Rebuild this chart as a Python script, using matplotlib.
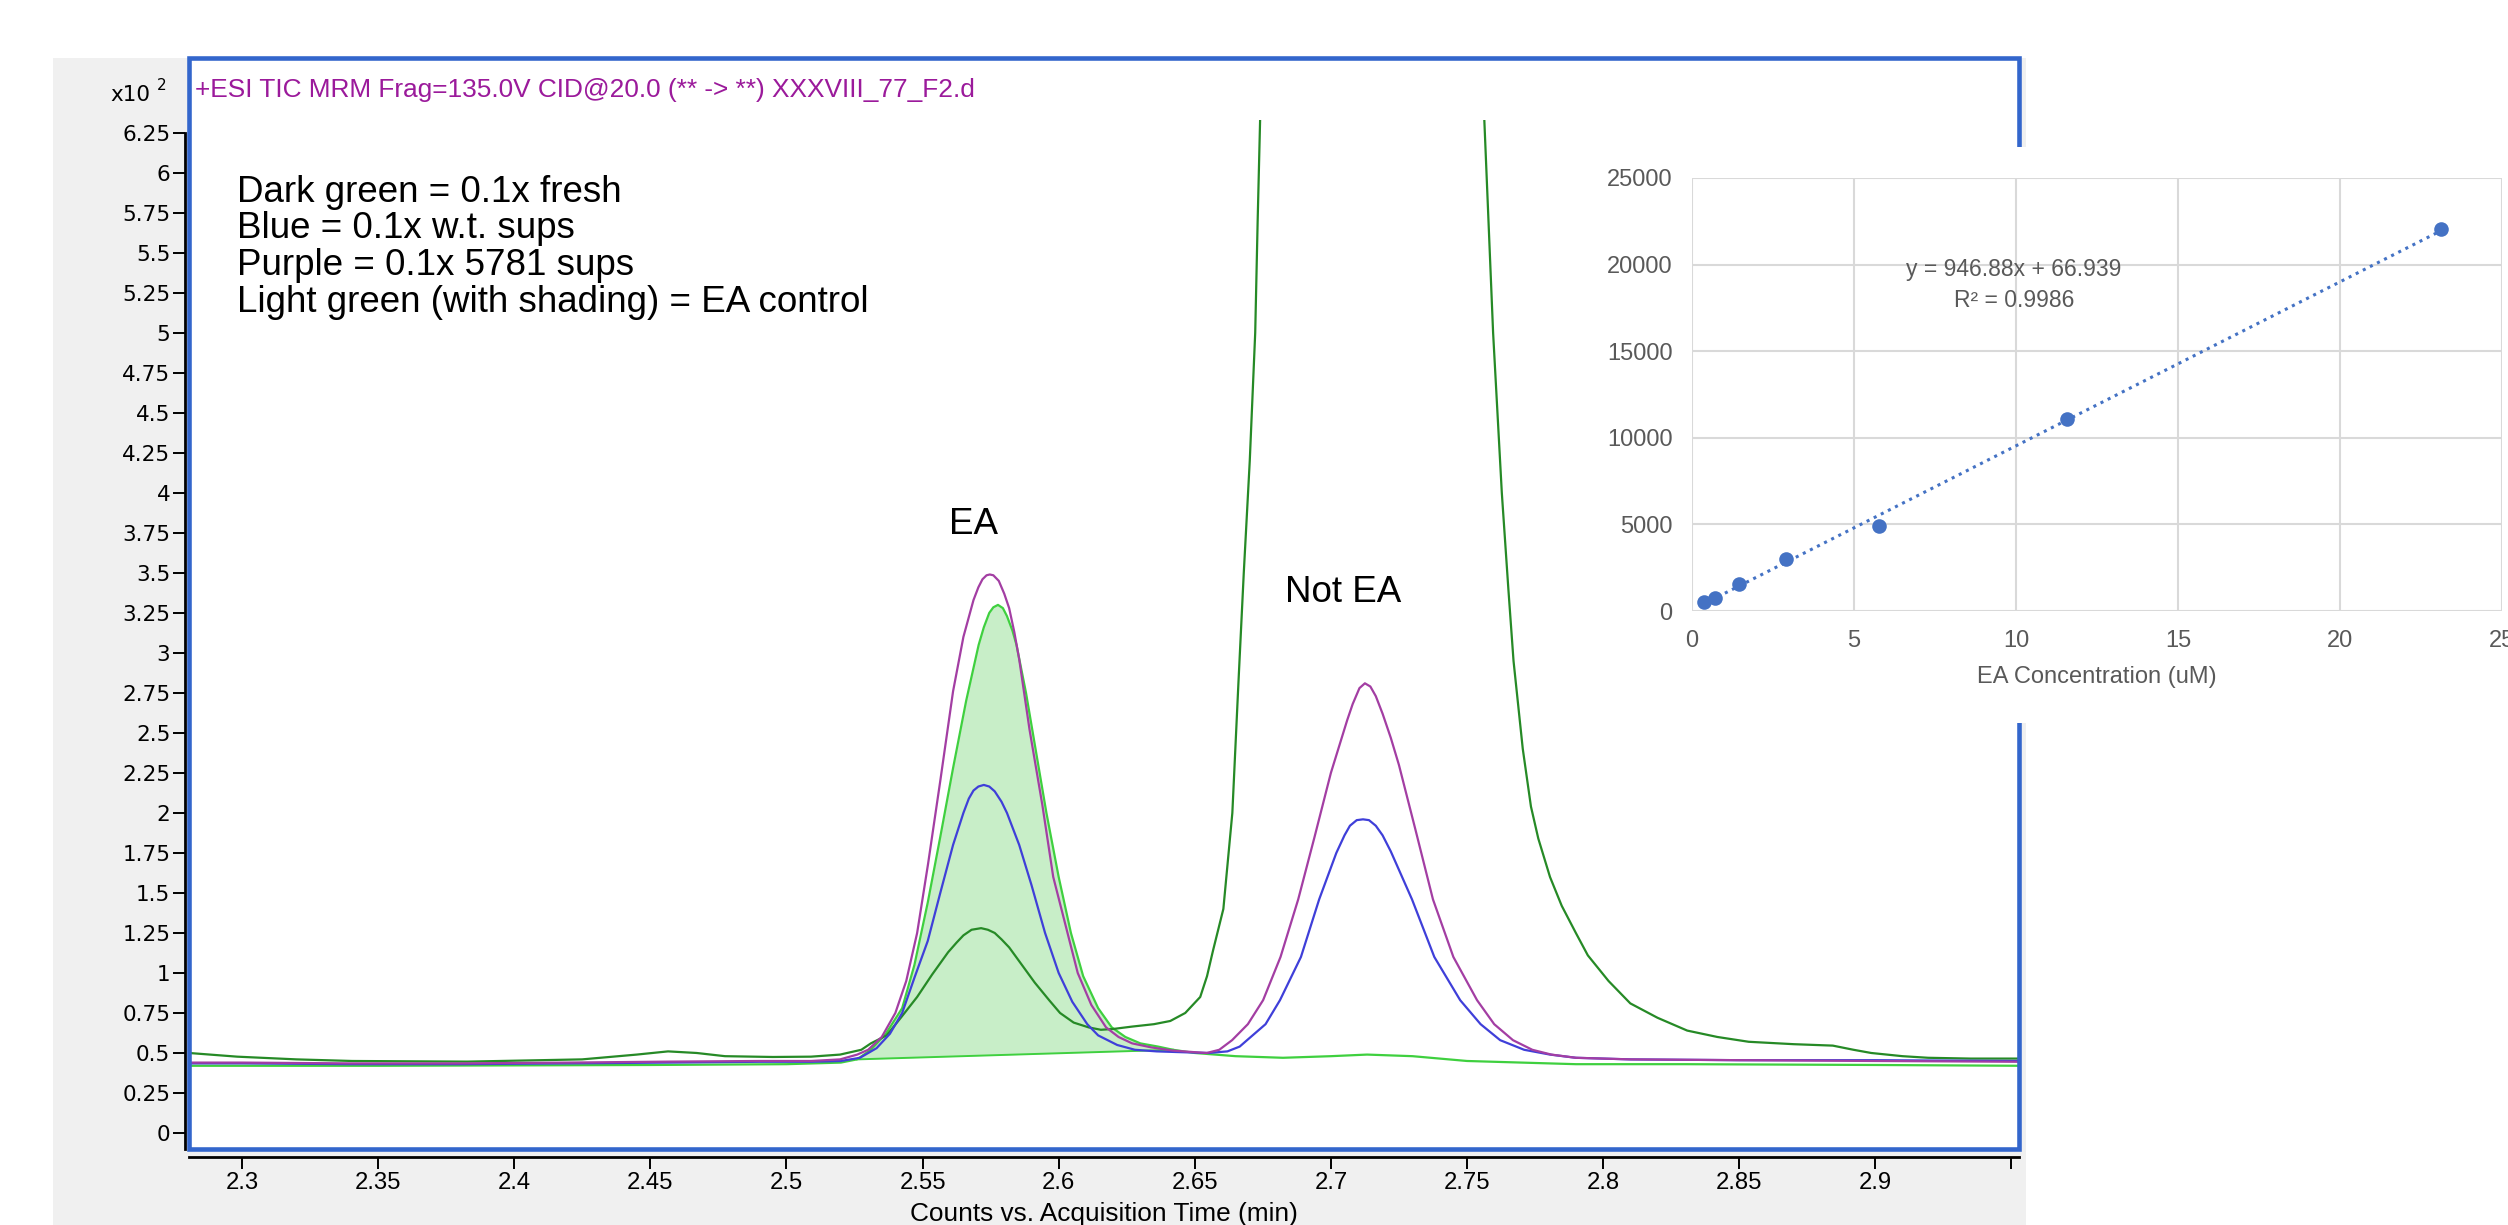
import matplotlib
matplotlib.use('Agg')
import matplotlib.pyplot as plt
from matplotlib.patches import Rectangle
from matplotlib import font_manager
import numpy as np

# chromatogram traces (time in min, counts in x10^2)
dark_t = [2.2805, 2.2982, 2.32, 2.3404, 2.3827, 2.4249, 2.445, 2.4565, 2.467, 2.4774, 2.495, 2.509,
          2.5197, 2.5275, 2.531, 2.5368, 2.542, 2.548, 2.5535, 2.5594, 2.5625, 2.565, 2.568, 2.5715,
          2.574, 2.5765, 2.579, 2.5818, 2.5865, 2.5912, 2.5965, 2.6005, 2.6055, 2.611, 2.6155, 2.62,
          2.627, 2.635, 2.641, 2.6465, 2.652, 2.6545, 2.6567, 2.6605, 2.6638, 2.666, 2.668, 2.6702,
          2.6722, 2.6731, 2.6741, 2.676, 2.69, 2.715, 2.74, 2.754, 2.7562, 2.7596, 2.7628, 2.7652,
          2.7671, 2.7705, 2.7735, 2.7762, 2.7805, 2.7848, 2.790, 2.7944, 2.802, 2.81, 2.82, 2.8309,
          2.842, 2.8535, 2.87, 2.8844, 2.892, 2.8985, 2.91, 2.9194, 2.935, 2.9528]
dark_v = [0.50, 0.477, 0.46, 0.45, 0.446, 0.46, 0.49, 0.51, 0.50, 0.48, 0.475, 0.477,
          0.49, 0.52, 0.56, 0.61, 0.72, 0.85, 0.99, 1.13, 1.19, 1.235, 1.27, 1.28,
          1.27, 1.25, 1.21, 1.16, 1.05, 0.94, 0.83, 0.75, 0.69, 0.66, 0.645, 0.65,
          0.665, 0.68, 0.70, 0.75, 0.85, 0.98, 1.14, 1.4, 2.0, 2.8, 3.5, 4.2,
          5.0, 5.7, 6.4, 8.0, 15.0, 40.0, 15.0, 8.0, 6.4, 5.0, 4.0, 3.4,
          2.95, 2.4, 2.04, 1.84, 1.6, 1.42, 1.25, 1.11, 0.95, 0.81, 0.72, 0.64,
          0.6, 0.57, 0.555, 0.546, 0.52, 0.50, 0.48, 0.47, 0.465, 0.465]

blue_t = [2.2805, 2.30, 2.34, 2.38, 2.42, 2.4565, 2.49, 2.509, 2.52, 2.527, 2.5331, 2.538,
          2.5425, 2.547, 2.5519, 2.5565, 2.5612, 2.565, 2.567, 2.5687, 2.5705, 2.5725, 2.5745,
          2.5765, 2.579, 2.581, 2.5855, 2.590, 2.595, 2.600, 2.605, 2.6105, 2.6145, 2.6215,
          2.628, 2.636, 2.645, 2.655, 2.662, 2.6665, 2.6692, 2.676, 2.6813, 2.689, 2.6957,
          2.702, 2.705, 2.707, 2.7095, 2.7118, 2.714, 2.7165, 2.719, 2.722, 2.7298, 2.738,
          2.7475, 2.755, 2.7622, 2.771, 2.7805, 2.79, 2.81, 2.85, 2.90, 2.9528]
blue_v = [0.435, 0.435, 0.43, 0.43, 0.435, 0.44, 0.445, 0.445, 0.45, 0.47, 0.53, 0.62,
          0.75, 0.97, 1.2, 1.5, 1.8, 2.0, 2.09, 2.14, 2.165, 2.175, 2.165,
          2.135, 2.07, 2.0, 1.8, 1.55, 1.25, 1.0, 0.82, 0.68, 0.61, 0.55,
          0.52, 0.51, 0.505, 0.50, 0.51, 0.54, 0.58, 0.68, 0.83, 1.1, 1.46,
          1.75, 1.86, 1.92, 1.955, 1.96, 1.955, 1.92, 1.86, 1.76, 1.46, 1.1,
          0.83, 0.68, 0.58, 0.52, 0.49, 0.47, 0.46, 0.455, 0.455, 0.45]

purple_t = [2.2805, 2.30, 2.34, 2.38, 2.42, 2.4565, 2.49, 2.509, 2.5197, 2.526, 2.530, 2.535,
            2.540, 2.544, 2.548, 2.552, 2.5565, 2.5612, 2.565, 2.5687, 2.5705, 2.572, 2.5735,
            2.5747, 2.576, 2.578, 2.580, 2.5818, 2.5837, 2.5855, 2.5893, 2.594, 2.598, 2.6025,
            2.607, 2.612, 2.6174, 2.622, 2.627, 2.634, 2.642, 2.65, 2.6544, 2.659, 2.6637,
            2.6695, 2.6751, 2.6815, 2.688, 2.694, 2.700, 2.706, 2.708, 2.7105, 2.7125, 2.7145,
            2.7165, 2.719, 2.722, 2.725, 2.731, 2.7375, 2.745, 2.7537, 2.760, 2.7669, 2.774,
            2.781, 2.79, 2.81, 2.85, 2.90, 2.9528]
purple_v = [0.44, 0.44, 0.435, 0.435, 0.44, 0.446, 0.45, 0.45, 0.46, 0.49, 0.52, 0.60,
            0.75, 0.95, 1.25, 1.68, 2.2, 2.76, 3.1, 3.33, 3.41, 3.46, 3.485,
            3.49, 3.485, 3.45, 3.37, 3.28, 3.13, 2.96, 2.52, 2.05, 1.6, 1.3,
            1.0, 0.8, 0.66, 0.6, 0.56, 0.535, 0.515, 0.505, 0.50, 0.52, 0.58,
            0.68, 0.83, 1.1, 1.46, 1.85, 2.25, 2.58, 2.68, 2.78, 2.81, 2.79,
            2.73, 2.62, 2.47, 2.3, 1.9, 1.46, 1.1, 0.83, 0.68, 0.58, 0.52,
            0.49, 0.47, 0.46, 0.455, 0.45, 0.445]

light_t = [2.2805, 2.35, 2.45, 2.50, 2.52, 2.5259, 2.531, 2.5365, 2.5425, 2.547, 2.5519, 2.5565,
           2.5612, 2.566, 2.5706, 2.5725, 2.5745, 2.576, 2.5777, 2.5795, 2.581, 2.583, 2.5845,
           2.588, 2.5912, 2.5955, 2.600, 2.6045, 2.609, 2.6145, 2.6195, 2.6245, 2.630, 2.6365,
           2.642, 2.65, 2.665, 2.6824, 2.70, 2.7133, 2.73, 2.75, 2.77, 2.79, 2.83, 2.90, 2.9528]
light_v = [0.42, 0.42, 0.425, 0.43, 0.44, 0.46, 0.52, 0.62, 0.78, 1.05, 1.44, 1.85,
           2.28, 2.7, 3.05, 3.16, 3.25, 3.285, 3.30, 3.28, 3.23, 3.14, 3.05,
           2.75, 2.43, 2.0, 1.6, 1.25, 0.98, 0.78, 0.66, 0.6, 0.56, 0.54,
           0.52, 0.5, 0.48, 0.47, 0.48, 0.49, 0.48, 0.45, 0.44, 0.43, 0.43, 0.425, 0.42]

# integration baseline of the EA control peak
base_t = [2.5259, 2.642]
base_v = [0.46, 0.52]

y_ticks = [0, 0.25, 0.5, 0.75, 1, 1.25, 1.5, 1.75, 2, 2.25, 2.5, 2.75, 3, 3.25, 3.5, 3.75,
           4, 4.25, 4.5, 4.75, 5, 5.25, 5.5, 5.75, 6, 6.25]
y_labels = ['0', '0.25', '0.5', '0.75', '1', '1.25', '1.5', '1.75', '2', '2.25', '2.5', '2.75',
            '3', '3.25', '3.5', '3.75', '4', '4.25', '4.5', '4.75', '5', '5.25', '5.5', '5.75',
            '6', '6.25']
x_ticks = [2.3, 2.35, 2.4, 2.45, 2.5, 2.55, 2.6, 2.65, 2.7, 2.75, 2.8, 2.85, 2.9, 2.95]
x_labels = ['2.3', '2.35', '2.4', '2.45', '2.5', '2.55', '2.6', '2.65', '2.7', '2.75', '2.8',
            '2.85', '2.9', '']

# calibration inset
conc = [0.36, 0.72, 1.44, 2.89, 5.78, 11.56, 23.12]
area = [500, 770, 1580, 3030, 4890, 11110, 22060]
slope, intercept = 946.88, 66.939
inset_xticks = [0, 5, 10, 15, 20, 25]
inset_yticks = [0, 5000, 10000, 15000, 20000, 25000]

notes = ['Dark green = 0.1x fresh', 'Blue = 0.1x w.t. sups', 'Purple = 0.1x 5781 sups',
         'Light green (with shading) = EA control']

W, H = 2508, 1225


def box(x0, y0, x1, y1):
    return [x0 / W, 1 - y1 / H, (x1 - x0) / W, (y1 - y0) / H]


names = {f.name for f in font_manager.fontManager.ttflist}
if 'Liberation Sans Narrow' in names:
    narrow, nscale = 'Liberation Sans Narrow', 1.0
else:
    narrow, nscale = 'Liberation Sans', 0.82

fig = plt.figure(figsize=(W / 100, H / 100), dpi=100)
fig.patches.append(Rectangle((53 / W, 0), (2026 - 53) / W, 1 - 58 / H, transform=fig.transFigure,
                             fc='#f0f0f0', ec='none', zorder=-5))
fig.patches.append(Rectangle((189 / W, 1 - 1149 / H), (2019 - 189) / W, (1149 - 58) / H,
                             transform=fig.transFigure, fc='white', ec='none', zorder=-4))

ax = fig.add_axes(box(189, 120, 2019, 1149))
ax.set_facecolor('none')
ax.set_xlim(2.2805, 2.9528)
ax.set_ylim(-0.1, 6.33)

t_fill = np.array([t for t in light_t if base_t[0] <= t <= base_t[1]])
v_fill = np.array([v for t, v in zip(light_t, light_v) if base_t[0] <= t <= base_t[1]])
ax.fill_between(t_fill, np.interp(t_fill, base_t, base_v), v_fill, color='#c8eec8', lw=0)
ax.plot(base_t, base_v, color='#3fd03f', lw=1.4)
ax.plot(light_t, light_v, color='#3fd03f', lw=1.6)
ax.plot(dark_t, dark_v, color='#268a26', lw=1.6)
ax.plot(blue_t, blue_v, color='#3f3fd9', lw=1.6)
ax.plot(purple_t, purple_v, color='#a33ea3', lw=1.6)

for s in ['top', 'right']:
    ax.spines[s].set_visible(False)
ax.spines['left'].set_position(('outward', 3))
ax.spines['left'].set_bounds(-0.1, 6.25)
ax.spines['bottom'].set_position(('outward', 6))
for s in ['left', 'bottom']:
    ax.spines[s].set_color('black')
    ax.spines[s].set_linewidth(2.0)

ax.set_yticks(y_ticks)
ax.set_yticklabels(y_labels, fontsize=15.5, fontfamily='DejaVu Sans')
ax.set_xticks(x_ticks)
ax.set_xticklabels(x_labels, fontsize=21 * nscale, fontfamily=narrow)
ax.tick_params(axis='both', direction='out', length=8.5, width=1.4, color='black', pad=2)

fig.patches.append(Rectangle((189 / W, 1 - 1149 / H), (2019 - 189) / W, (1149 - 58) / H,
                             transform=fig.transFigure, fc='none', ec='#3366cc', lw=3.3, zorder=2))

fig.text(195 / W, 1 - 90 / H, '+ESI TIC MRM Frag=135.0V CID@20.0 (** -> **) XXXVIII_77_F2.d',
         color='#9b1a9b', fontsize=23 * nscale, fontfamily=narrow, ha='left', va='center')
fig.text(150 / W, 1 - 95 / H, 'x10', fontsize=15.5, fontfamily='DejaVu Sans', ha='right', va='center')
fig.text(157 / W, 1 - 86 / H, '2', fontsize=11, fontfamily='DejaVu Sans', ha='left', va='center')
fig.text(1104 / W, 1 - 1214 / H, 'Counts vs. Acquisition Time (min)', fontsize=23 * nscale,
         fontfamily=narrow, ha='center', va='center')

for i, s in enumerate(notes):
    fig.text(237 / W, 1 - (192 + 37 * i) / H, s, fontsize=26.5, fontfamily='Liberation Sans',
             ha='left', va='center')
fig.text(973 / W, 1 - 524 / H, 'EA', fontsize=26.5, fontfamily='Liberation Sans', ha='center', va='center')
fig.text(1343 / W, 1 - 593 / H, 'Not EA', fontsize=26.5, fontfamily='Liberation Sans',
         ha='center', va='center')

# inset: white card over the right part of the chromatogram
card = fig.add_axes(box(1560, 147, 2508, 723), zorder=5)
card.set_facecolor('white')
card.set_xticks([])
card.set_yticks([])
for s in card.spines.values():
    s.set_visible(False)

ins = fig.add_axes(box(1692, 178, 2502, 611), zorder=6)
ins.set_facecolor('none')
ins.set_xlim(0, 25)
ins.set_ylim(0, 25000)
ins.set_xticks(inset_xticks)
ins.set_yticks(inset_yticks)
ins.grid(True, color='#d9d9d9', lw=1.5)
ins.set_axisbelow(True)
for s in ins.spines.values():
    s.set_visible(False)
ins.tick_params(length=0, labelsize=17, labelcolor='#595959', pad=14)
for lab in ins.get_xticklabels() + ins.get_yticklabels():
    lab.set_fontfamily('Liberation Sans')
trend_x = np.array([conc[0], conc[-1]])
ins.plot(trend_x, slope * trend_x + intercept, color='#4472c4', lw=2.2, ls=(0, (1, 1.6)))
ins.plot(conc, area, 'o', color='#4472c4', ms=10.5, mec='none', clip_on=False)
ins.set_xlabel('EA Concentration (uM)', fontsize=17, fontfamily='Liberation Sans', color='#595959',
               labelpad=10)
ins.text(9.94, 19700, 'y = 946.88x + 66.939', fontsize=16.5, fontfamily='Liberation Sans',
         color='#595959', ha='center', va='center')
ins.text(9.94, 17950, 'R² = 0.9986', fontsize=16.5, fontfamily='Liberation Sans',
         color='#595959', ha='center', va='center')

fig.savefig('out.png', dpi=100)
